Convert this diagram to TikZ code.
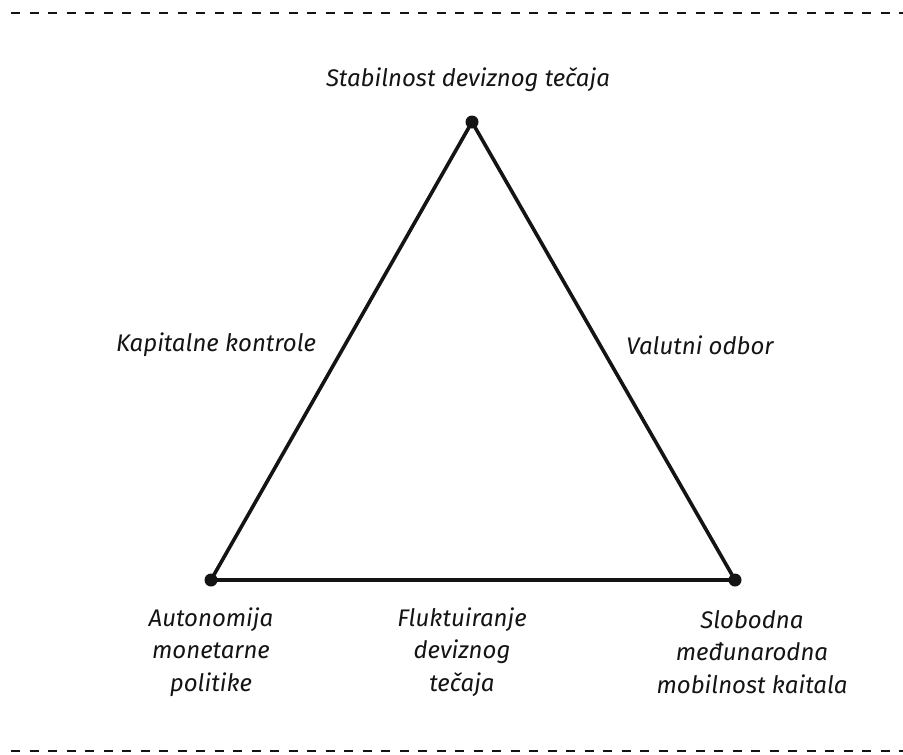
\documentclass[tikz,border=0pt]{standalone}
\usepackage{fontspec}
\setmainfont{Fira Sans}
\definecolor{trilemma_ink}{RGB}{20, 20, 20}
\usepackage{tikz}
\usetikzlibrary{positioning, calc}

\tikzset{
  lbl/.style={font=\fontsize{24}{32.5}\selectfont\itshape, color=trilemma_ink, align=center},
  side/.style={line width=3.6pt, color=trilemma_ink, line join=miter},
  rule/.style={line width=2.6pt, color=trilemma_ink, dash pattern=on 9pt off 9.5pt},
}

\begin{document}
\begin{tikzpicture}[x=1pt, y=-1pt]
        \useasboundingbox (0,0) rectangle (903,755);

        % dashed frame lines
        \coordinate (tl) at (11,13);  \coordinate (tr) at (903,13);
        \coordinate (bl) at (11,751); \coordinate (br) at (903,751);
        \draw[rule] (tl) -- (tr);
        \draw[rule] (bl) -- (br);

        % triangle corners
        \coordinate (top) at (472,122);
        \coordinate (left) at (211,580);
        \coordinate (right) at (735,580);
        \draw[side] (top) -- (left) -- (right) -- cycle;
        \foreach \c in {top,left,right}
          { \fill[trilemma_ink] (\c) circle (6.5pt); }

        % corner goals
        \node[lbl] (stab) at (468,80) {Stabilnost deviznog tečaja};
        \node[lbl] (auto) at (211,652) {Autonomija\\monetarne\\politike};
        \node[lbl] (mob) at (752,652) {Slobodna\\međunarodna\\mobilnost kaitala};

        % regimes on the sides
        \node[lbl] (kap) at (216,345) {Kapitalne kontrole};
        \node[lbl] (val) at (700,345) {Valutni odbor};
        \node[lbl] (fluk) at (462,652) {Fluktuiranje\\deviznog\\tečaja};
      \end{tikzpicture}
\end{document}
